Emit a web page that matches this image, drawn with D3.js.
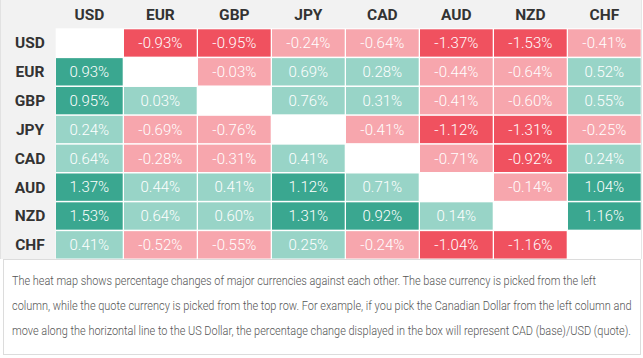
<!DOCTYPE html>
<html><head><meta charset="utf-8">
<script src="https://cdn.jsdelivr.net/npm/d3@7"></script>
<style>html,body{margin:0;padding:0;background:#fff;}svg{display:block;}</style>
</head><body>
<svg id="chart" width="643" height="358"></svg>
<script>
const currencies = ["USD","EUR","GBP","JPY","CAD","AUD","NZD","CHF"];
const usdRow = [null, -0.93, -0.95, -0.24, -0.64, -1.37, -1.53, -0.41];
const eurRow = [0.93, null, -0.03, 0.69, 0.28, -0.44, -0.64, 0.52];
const gbpRow = [0.95, 0.03, null, 0.76, 0.31, -0.41, -0.60, 0.55];
const jpyRow = [0.24, -0.69, -0.76, null, -0.41, -1.12, -1.31, -0.25];
const cadRow = [0.64, -0.28, -0.31, 0.41, null, -0.71, -0.92, 0.24];
const audRow = [1.37, 0.44, 0.41, 1.12, 0.71, null, -0.14, 1.04];
const nzdRow = [1.53, 0.64, 0.60, 1.31, 0.92, 0.14, null, 1.16];
const chfRow = [0.41, -0.52, -0.55, 0.25, -0.24, -1.04, -1.16, null];
const rows = [usdRow, eurRow, gbpRow, jpyRow, cadRow, audRow, nzdRow, chfRow];
const noteLines = [
  "The heat map shows percentage changes of major currencies against each other. The base currency is picked from the left",
  "column, while the quote currency is picked from the top row. For example, if you pick the Canadian Dollar from the left column and",
  "move along the horizontal line to the US Dollar, the percentage change displayed in the box will represent CAD (base)/USD (quote)."
];

const svg = d3.select("#chart");
const labelW = 56;
const x = d3.scaleBand().domain(currencies).range([50, 642]).padding(0);
const y = d3.scaleBand().domain(currencies).range([29.3, 260]).padding(0);
const color = d3.scaleThreshold().domain([-0.8, 0, 0.8])
  .range(["#f0515f", "#f7a6ad", "#98d4c7", "#3aa790"]);

// backgrounds
svg.append("rect").attr("x",0).attr("y",0).attr("width",642).attr("height",28.3).attr("fill","#f2f2f2");
svg.append("rect").attr("x",0).attr("y",0).attr("width",labelW - 0.3).attr("height",259).attr("fill","#f2f2f2");
svg.append("line").attr("x1",0.5).attr("x2",0.5).attr("y1",0).attr("y2",259).attr("stroke","#e2e2e2");
svg.append("line").attr("x1",641.5).attr("x2",641.5).attr("y1",0).attr("y2",259).attr("stroke","#e6e6e6");

const cells = [];
rows.forEach((r, i) => r.forEach((v, j) => cells.push({row: currencies[i], col: currencies[j], v})));

const g = svg.append("g");
const cellX = d => Math.max(x(d.col), labelW);
const cellW = d => x(d.col) + x.bandwidth() - 1.3 - cellX(d);
g.selectAll("rect.cell").data(cells.filter(d => d.v !== null)).join("rect")
  .attr("class","cell")
  .attr("x", cellX).attr("y", d => y(d.row))
  .attr("width", cellW).attr("height", y.bandwidth() - 1.5)
  .attr("fill", d => color(d.v));

g.selectAll("text.val").data(cells.filter(d => d.v !== null)).join("text")
  .attr("class","val")
  .attr("x", d => cellX(d) + cellW(d) / 2)
  .attr("y", d => y(d.row) + (y.bandwidth() - 1.5) / 2 + 5.3)
  .attr("text-anchor","middle")
  .attr("font-family","Roboto, sans-serif").attr("font-weight",300).attr("font-size",15)
  .attr("fill","#fff")
  .text(d => d.v.toFixed(2) + "%");

// column headers
svg.selectAll("text.colh").data(currencies).join("text")
  .attr("class","colh")
  .attr("x", d => { const x0 = Math.max(x(d), labelW); return (x0 + x(d) + x.bandwidth() - 1.3) / 2; })
  .attr("y", 19.5)
  .attr("text-anchor","middle")
  .attr("font-family","Roboto, sans-serif").attr("font-weight",700).attr("font-size",15.5)
  .attr("fill","#333")
  .text(d => d);

// row headers
svg.selectAll("text.rowh").data(currencies).join("text")
  .attr("class","rowh")
  .attr("x", 30)
  .attr("y", d => y(d) + (y.bandwidth() - 1.5) / 2 + 5.5)
  .attr("text-anchor","middle")
  .attr("font-family","Roboto, sans-serif").attr("font-weight",700).attr("font-size",15.5)
  .attr("fill","#333")
  .text(d => d);

// note box
svg.append("rect").attr("x",3.5).attr("y",259.5).attr("width",637).attr("height",95)
  .attr("fill","#fff").attr("stroke","#dcdcdc");
const lineEnds = [597, 632, 631];
svg.selectAll("text.note").data(noteLines).join("text")
  .attr("class","note")
  .attr("x", 0).attr("y", 0)
  .attr("font-family","Roboto, sans-serif").attr("font-weight",300).attr("font-size",12.5)
  .attr("fill","#555")
  .text(d => d)
  .attr("transform", function(d, i) {
    const w = this.getComputedTextLength();
    const k = (lineEnds[i] - 12) / w;
    return `translate(12,${285 + i * 25}) scale(${k},1)`;
  });
</script>
</body></html>
